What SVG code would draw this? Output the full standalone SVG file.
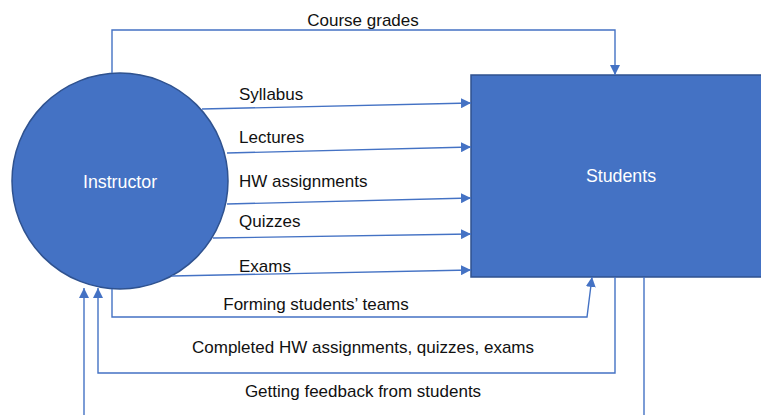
<svg xmlns="http://www.w3.org/2000/svg" width="761" height="415" viewBox="0 0 761 415">
  <style>
    .flow { fill: none; stroke: #4472C4; stroke-width: 1.4; }
    .lbl { font-family: "Liberation Sans", Arial, sans-serif; font-size: 17px; fill: #111; }
    .node-lbl { font-family: "Liberation Sans", Arial, sans-serif; font-size: 17.8px; fill: #FFFFFF; text-anchor: middle; }
    .shape { fill: #4472C4; stroke: #2F528F; stroke-width: 1.5; }
  </style>
  <defs>
    <marker id="arrow" markerUnits="userSpaceOnUse" markerWidth="10" markerHeight="10" viewBox="0 0 10 10" refX="10" refY="5" orient="auto">
      <path d="M0,0 L10,5 L0,10 Z" fill="#4472C4"/>
    </marker>
  </defs>

  <rect width="761" height="415" fill="#FFFFFF"/>

  <!-- Instructor (process circle) -->
  <g id="instructor">
    <circle cx="120" cy="181" r="108" class="shape"/>
    <text x="120" y="188" class="node-lbl">Instructor</text>
  </g>

  <!-- Students (external entity) -->
  <g id="students">
    <rect x="471" y="75" width="300" height="202" class="shape"/>
    <text x="621" y="182" class="node-lbl">Students</text>
  </g>

  <!-- Data flows -->
  <g id="connectors">
    <polyline class="flow" points="112,73 112,30 615,30 615,75" marker-end="url(#arrow)"/>
    <line class="flow" x1="202" y1="109" x2="471" y2="103" marker-end="url(#arrow)"/>
    <line class="flow" x1="227" y1="153" x2="471" y2="147" marker-end="url(#arrow)"/>
    <line class="flow" x1="227" y1="204" x2="471" y2="198" marker-end="url(#arrow)"/>
    <line class="flow" x1="213" y1="238" x2="471" y2="234" marker-end="url(#arrow)"/>
    <line class="flow" x1="172" y1="276" x2="471" y2="270" marker-end="url(#arrow)"/>
    <polyline class="flow" points="112,289 112,317 587,317 592,277" marker-end="url(#arrow)"/>
    <polyline class="flow" points="615,277 615,373 98,373 98,288" marker-end="url(#arrow)"/>
    <line class="flow" x1="644" y1="277" x2="644" y2="415"/>
    <line class="flow" x1="84" y1="415" x2="84" y2="288" marker-end="url(#arrow)"/>
  </g>

  <!-- Flow labels -->
  <g id="labels">
    <text x="363" y="26" class="lbl" text-anchor="middle">Course grades</text>
    <text x="239" y="100" class="lbl">Syllabus</text>
    <text x="239" y="143" class="lbl">Lectures</text>
    <text x="239" y="187" class="lbl">HW assignments</text>
    <text x="239" y="227" class="lbl">Quizzes</text>
    <text x="239" y="272" class="lbl">Exams</text>
    <text x="316" y="310" class="lbl" text-anchor="middle">Forming students’ teams</text>
    <text x="363" y="353" class="lbl" text-anchor="middle">Completed HW assignments, quizzes, exams</text>
    <text x="363" y="397" class="lbl" text-anchor="middle">Getting feedback from students</text>
  </g>
</svg>
